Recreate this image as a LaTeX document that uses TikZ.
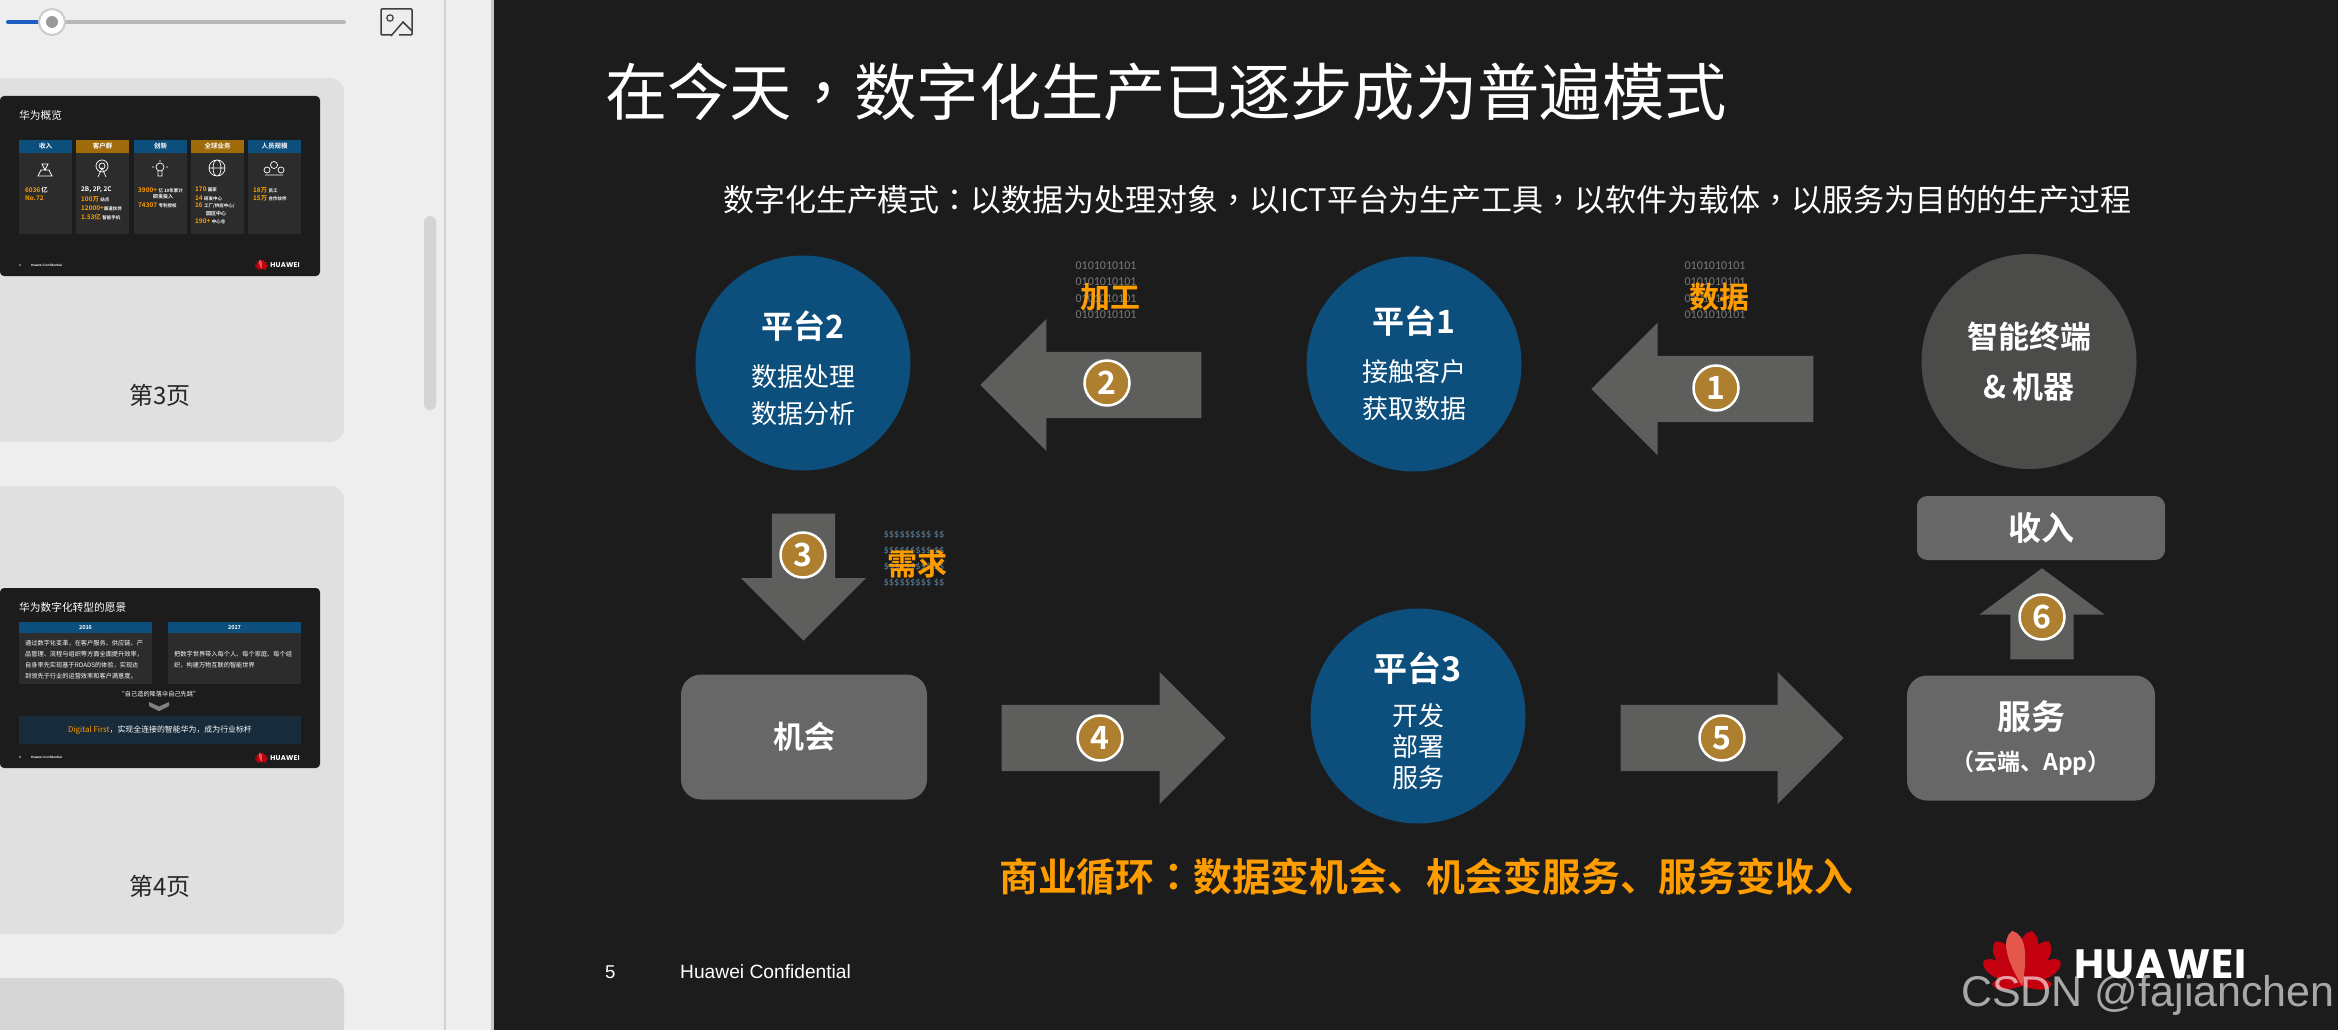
\documentclass[tikz,border=0pt]{standalone}
\usepackage{fontspec}
\usepackage{xcolor}
\usetikzlibrary{shapes.arrows, shapes.geometric, positioning}
\setmainfont[BoldFont={Noto Sans CJK SC Bold}]{Noto Sans CJK SC}
\newfontfamily\latinfont{Liberation Sans}
\newfontfamily\bitfont{Carlito}
\newfontfamily\logofont[LetterSpace=3]{Poppins}
\newfontfamily\tcfont[BoldFont={Noto Sans CJK TC Bold}]{Noto Sans CJK TC}
\definecolor{slide}{HTML}{1C1C1C}
\definecolor{pane}{HTML}{EEEEEE}
\definecolor{card}{HTML}{E0E0E0}
\definecolor{cardb}{HTML}{D6D6D6}
\definecolor{edge}{HTML}{D0D0D0}
\definecolor{slider}{HTML}{1F5FC4}
\definecolor{hwblue}{HTML}{0C4E7C}
\definecolor{hwgold}{HTML}{A06B0B}
\definecolor{hworange}{HTML}{FF9D00}
\definecolor{cell}{HTML}{2C2C2C}
\definecolor{bar}{HTML}{172B3A}
\definecolor{arrowgray}{HTML}{5E5E5D}
\definecolor{boxgray}{HTML}{676767}
\definecolor{termgray}{HTML}{4B4B4A}
\definecolor{badge}{HTML}{AE7F2F}
\definecolor{bitgray}{HTML}{7A7A7A}
\definecolor{dollar}{HTML}{5D7F9A}
\definecolor{hwred}{HTML}{C4000E}
\definecolor{hwlight}{HTML}{E4574C}
\newcommand\fsz[2]{\fontsize{#1}{#2}\selectfont}
\newcommand\hit[1]{\textcolor{hworange}{#1}}
\newcommand\cma{{\tcfont ，}}
\newcommand\cln{{\tcfont ：}}
\begin{document}
\begin{tikzpicture}[
  x=1pt, y=-1pt,
  platform/.style={circle, fill=hwblue, minimum size=215, inner sep=0},
  ptext/.style={inner sep=0, text=white, align=center, font=\fsz{26}{37}},
  plain/.style={rectangle, rounded corners=20, fill=boxgray, inner sep=0, text=white, align=center},
  flow/.style={single arrow, fill=arrowgray, inner xsep=0, inner ysep=33, single arrow head extend=33, anchor=tip},
  flowv/.style={flow, inner xsep=31.5, inner ysep=0, single arrow head extend=31},
  num/.style={circle, draw=white, line width=2.5, fill=badge, minimum size=45, inner sep=0, text=white, font=\fsz{32}{32}\bfseries},
  tag/.style={inner sep=0, text=hworange, font=\fsz{30}{30}\bfseries},
  bits/.style={inner sep=0, text=bitgray, align=left, font=\bitfont\fsz{12}{16.3}},
  txt/.style={inner sep=0, anchor=west, text=white},
  mini/.style={txt, font=\fsz{5}{6}\bfseries},
  miniw/.style={txt, font=\fsz{6.4}{9}\bfseries},
  page/.style={inner sep=0, text=black!85, font=\fsz{24}{24}},
  thumb/.style={rectangle, rounded corners=4, fill=slide, inner sep=0, minimum width=320, minimum height=180},
  ico/.style={draw=white, line width=.7},
  hwlogo/.pic={
    \foreach \ang/\len in {-86/30, -57/46, -31/52, -10/56, 31/52, 57/46, 86/30}
      \fill[hwred, rotate=\ang] (0,0) .. controls (-.2*\len,-.5*\len) and (-.24*\len,-.9*\len) .. (0,-\len)
        .. controls (.24*\len,-.9*\len) and (.2*\len,-.5*\len) .. (0,0);
    \fill[hwlight, rotate=10] (0,0) .. controls (-11,-28) and (-13,-50) .. (0,-56)
      .. controls (13,-50) and (11,-28) .. (0,0);
    \node[inner sep=0, anchor=west, text=white, transform shape, font=\logofont\fsz{41}{41}\bfseries] at (52,-22) {HUAWEI};
  }]
\useasboundingbox (0,0) rectangle (2338,1030);
\fill[pane] (0,0) rectangle (494,1030);
\fill[slide] (494,0) rectangle (2338,1030);
\fill[edge] (444,0) rectangle (446,1030);
\fill[black!22] (491,0) rectangle (494,1030);

\draw[line width=4, line cap=round, black!28] (38,22) -- (344,22);
\draw[line width=4, line cap=round, slider] (8,22) -- (38,22);
\node[circle, draw=black!20, line width=2, fill=white, minimum size=26, inner sep=0] (knob) at (52,22) {};
\node[circle, fill=black!40, minimum size=12, inner sep=0] at (knob) {};
\draw[line width=1.5, black!75, rounded corners=1] (392,35) -- (381,35) -- (381,9) -- (412,9) -- (412,35) -- (399,35);
\draw[line width=1.5, black!75] (391,36) -- (403,22) -- (412,31);
\draw[line width=1.2, black!75] (390,18) circle (3.2);
\node[rectangle, rounded corners=6, fill=black!17, minimum width=12, minimum height=194, inner sep=0] (scrollbar) at (430,313) {};

\fill[card, rounded corners=14] (-20,78) rectangle (344,442);
\fill[card, rounded corners=14] (-20,486) rectangle (344,934);
\fill[cardb, rounded corners=14] (-20,978) rectangle (344,1060);
\node[page] (page3) at (160,395) {第3页};
\node[page] (page4) at (160,886) {第4页};

\node[thumb] (thumb3) at (160,186) {};
\node[txt, font=\fsz{10.7}{11}] (t3title) at (19,115) {华为概览};
\foreach \cx/\cc/\ct in {19/hwblue/收入, 76/hwgold/客户群, 134/hwblue/创新, 191/hwgold/全球业务, 248/hwblue/人员规模} {
  \fill[cell] (\cx,153) rectangle (\cx+53,234);
  \fill[\cc] (\cx,140) rectangle (\cx+53,153);
  \node[inner sep=0, text=white, font=\fsz{6.5}{7}\bfseries] at (\cx+26.5,146) {\ct};
}
\draw[ico] (41,170) -- (49,170) -- (52,176) -- (38,176) -- cycle (42,164) -- (48,164) -- (45,170) -- cycle;
\draw[ico] (102,166) circle (3) (102,166) circle (6) (98,177) -- (102,168) -- (106,177);
\draw[ico] (160,167) circle (4) (158,171) -- (158,176) -- (162,176) -- (162,171) (160,160) -- (160,162) (152,167) -- (154,167) (166,167) -- (168,167);
\draw[ico] (217,168) circle (8) (217,168) ellipse (4 and 8) (209,168) -- (225,168);
\draw[ico] (274,165) circle (3.5) (267,170) circle (3) (281,170) circle (3) (265,175) -- (283,175);
\node[miniw] at (25,190) {\hit{6036}\,亿};
\node[miniw] at (25,198) {\hit{No.72}};
\node[miniw] at (81,190) {2B, 2P, 2C};
\node[miniw] at (81,199) {\hit{100万} \fsz{4.5}{5}站点};
\node[miniw] at (81,208) {\hit{12000+}\fsz{4.5}{5}渠道伙伴};
\node[miniw] at (81,217) {\hit{1.53亿} \fsz{4.5}{5}智能手机};
\node[miniw] at (138,190) {\hit{3900+} \fsz{4.5}{5}亿 10年累计};
\node[mini] at (153,197) {研发投入};
\node[miniw] at (138,205) {\hit{74307} \fsz{4.5}{5}专利授权};
\node[miniw] at (195,189) {\hit{170} \fsz{4.5}{5}国家};
\node[miniw] at (195,198) {\hit{14} \fsz{4.5}{5}研发中心};
\node[miniw] at (195,206) {\hit{16} \fsz{4.5}{5}工厂/供应中心/};
\node[mini] at (206,214) {园区中心};
\node[miniw] at (195,221) {\hit{190+} \fsz{4.5}{5}中心仓};
\node[miniw] at (253,190) {\hit{18万} \fsz{4.5}{5}员工};
\node[miniw] at (253,198) {\hit{15万} \fsz{4.5}{5}合作伙伴};
\node[txt, font=\fsz{3}{3}\bfseries] at (19,265) {3};
\node[txt, font=\latinfont\fsz{3.2}{3}\bfseries] at (31,265) {Huawei Confidential};
\pic[scale=.17] at (261.5,269) {hwlogo};

\node[thumb] (thumb4) at (160,678) {};
\node[txt, font=\fsz{10.7}{11}] (t4title) at (19,607) {华为数字化转型的愿景};
\foreach \cx/\ct in {19/2016, 168/2017} {
  \fill[cell] (\cx,633) rectangle (\cx+133,684);
  \fill[hwblue] (\cx,622) rectangle (\cx+133,633);
  \node[inner sep=0, text=white, font=\fsz{5.5}{6}\bfseries] at (\cx+66.5,627.5) {\ct};
}
\node[txt, align=left, font=\fsz{6.2}{11}] (t4left) at (25,659.5) {通过数字化变革，在客户服务、供应链、产\\品管理、流程与组织等方面全面提升效率，\\自身率先实现基于ROADS的体验，实现达\\到领先于行业的运营效率和客户满意度。};
\node[txt, align=left, font=\fsz{6.2}{11}] (t4right) at (174,659.5) {把数字世界带入每个人、每个家庭、每个组\\织，构建万物互联的智能世界};
\node[inner sep=0, text=white, font=\fsz{6.2}{7}] (t4quote) at (159,694.5) {“自己造的降落伞自己先跳”};
\fill[black!50] (149,702) -- (159,706.5) -- (169,702) -- (169,706) -- (159,711) -- (149,706) -- cycle;
\fill[bar] (19,716) rectangle (301,744);
\node[inner sep=0, text=white, font=\fsz{7.9}{8}] (t4bar) at (160,730) {\hit{Digital First}，实现全连接的智能华为，成为行业标杆};
\node[txt, font=\fsz{3}{3}\bfseries] at (19,757.5) {4};
\node[txt, font=\latinfont\fsz{3.2}{3}\bfseries] at (31,757.5) {Huawei Confidential};
\pic[scale=.17] at (261.5,762) {hwlogo};

\node[txt, font=\fsz{62.3}{63}] (title) at (605,92) {在今天\cma 数字化生产已逐步成为普遍模式};
\node[txt, font=\fsz{30.95}{31}] (subtitle) at (723,200) {数字化生产模式\cln 以数据为处理对象\cma 以ICT平台为生产工具\cma 以软件为载体\cma 以服务为目的的生产过程};

\node[platform] (p2) at (803,363) {};
\node[ptext] (p2t) at (803,368.5) {\textbf{\fsz{32}{37}平台2}\\[11pt]数据处理\\数据分析};
\node[platform] (p1) at (1414,364) {};
\node[ptext] (p1t) at (1414,363.5) {\textbf{\fsz{32}{37}平台1}\\[11pt]接触客户\\获取数据};
\node[platform] (p3) at (1418,716) {};
\node[ptext, font=\fsz{26}{31}] (p3t) at (1418,721) {\textbf{\fsz{34}{37}平台3}\\[13pt]开发\\部署\\服务};
\node[circle, fill=termgray, minimum size=215, inner sep=0, text=white, align=center, font=\fsz{31}{50}\bfseries] (term) at (2029,361.5) {智能终端\\\&~机器};
\node[plain, minimum width=246, minimum height=125, font=\fsz{31}{31}\bfseries] (chance) at (804,737) {机会};
\node[plain, minimum width=248, minimum height=125, font=\fsz{34}{41}\bfseries] (svc) at (2031,738) {服务\\\fsz{23}{23}（云端、App）};
\node[plain, rounded corners=10, minimum width=248, minimum height=64, font=\fsz{33}{33}\bfseries] (income) at (2041,528) {收入};

\node[flow, minimum height=222, shape border rotate=180] (a1) at (1591,389) {};
\node[flow, minimum height=221, shape border rotate=180] (a2) at (980,385) {};
\node[flowv, minimum height=127, shape border rotate=270] (a3) at (803.5,641) {};
\node[flow, minimum height=224] (a4) at (1226,738) {};
\node[flow, minimum height=223] (a5) at (1844,738) {};
\node[flowv, minimum height=91, single arrow tip angle=107, shape border rotate=90] (a6) at (2042,568) {};
\node[num] (n1) at (1716,388) {1};
\node[num] (n2) at (1107,383) {2};
\node[num] (n3) at (803,555) {3};
\node[num] (n4) at (1100,738) {4};
\node[num] (n5) at (1722,738) {5};
\node[num] (n6) at (2042,617) {6};

\node[bits] (bitsb) at (1106,290) {0101010101\\0101010101\\0101010101\\0101010101};
\node[bits] (bitsa) at (1715,290) {0101010101\\0101010101\\0101010101\\0101010101};
\node[bits, text=dollar, font=\bitfont\fsz{10.5}{16}] (cash) at (914,559) {\$\$\$\$\$\$\$\$\$ \$\$\\\$\$\$\$\$\$\$\$\$ \$\$\\\$\$\$\$\$\$\$\$\$ \$\$\\\$\$\$\$\$\$\$\$\$ \$\$};
\node[tag] (work) at (1110,297) {加工};
\node[tag] (data) at (1719,297) {数据};
\node[tag] (need) at (917,564) {需求};

\node[inner sep=0, text=hworange, font=\fsz{38.8}{39}\bfseries] (slogan) at (1426,877) {商业循环{\tcfont\bfseries ：}数据变机会、机会变服务、服务变收入};
\node[txt, font=\latinfont\fsz{18.6}{19}] (pageno) at (605,972) {5};
\node[txt, font=\latinfont\fsz{19.2}{19}] (conf) at (680,972) {Huawei Confidential};
\pic at (2022,986) {hwlogo};
\node[inner sep=0, anchor=base west, text=white, text opacity=.62, font=\latinfont\fsz{43}{43}] (mark) at (1961,1006) {CSDN @fajianchen};
\end{tikzpicture}
\end{document}
